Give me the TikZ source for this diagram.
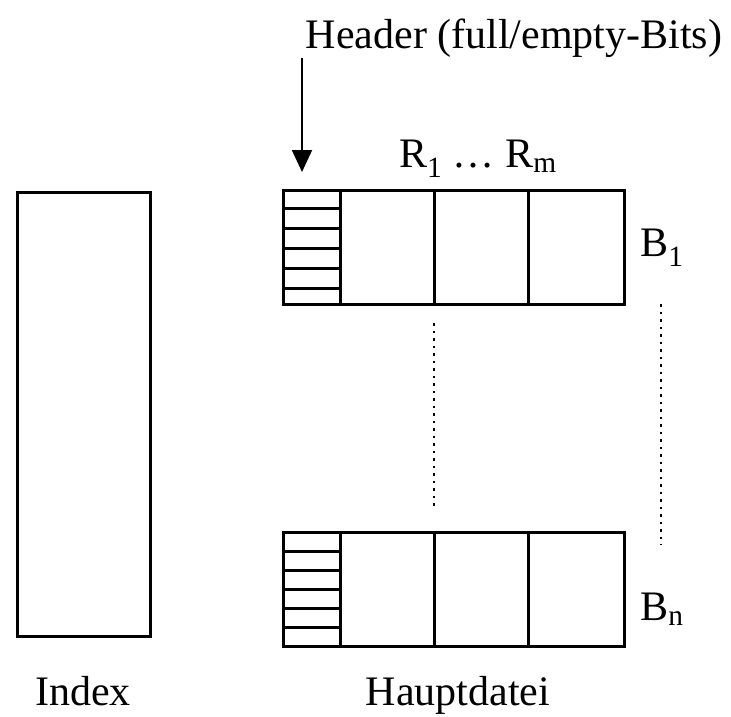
\documentclass[tikz,border=0pt]{standalone}
\usepackage{fontspec}
\setmainfont{Liberation Serif}
\usetikzlibrary{arrows.meta}
\begin{document}
\begin{tikzpicture}[x=1pt,y=-1pt,
  box/.style={draw,line width=3pt},
  dotline/.style={draw,line width=2.5pt,dash pattern=on 2.5pt off 5pt},
  lbl/.style={font=\fontsize{42}{46}\selectfont,inner sep=0pt,anchor=base}]
\useasboundingbox (0,0) rectangle (731,716);
% Index
\node[box,minimum width=133pt,minimum height=444pt,inner sep=0pt] (index) at (83.5,414) {};
% Block B1
\node[box,minimum width=341pt,minimum height=114pt,inner sep=0pt] (b1) at (453.5,247) {};
\foreach \x in {340,434,528} \draw[line width=3pt] (\x,190) -- (\x,304);
\foreach \y in {208,228,248,268,288} \draw[line width=3pt] (283,\y) -- (340,\y);
% Block Bn
\node[box,minimum width=341pt,minimum height=114pt,inner sep=0pt] (bn) at (453.5,589) {};
\foreach \x in {340,434,528} \draw[line width=3pt] (\x,532) -- (\x,646);
\foreach \y in {551,570,589,608,627} \draw[line width=3pt] (283,\y) -- (340,\y);
% dotted
\coordinate (d1a) at (434,323); \coordinate (d1b) at (434,510);
\coordinate (d2a) at (661,304); \coordinate (d2b) at (661,545);
\draw[dotline] (d1a) -- (d1b);
\draw[dotline] (d2a) -- (d2b);
% arrow
\coordinate (as) at (302,58); \coordinate (ae) at (302,172);
\draw[line width=2pt,-{Triangle[length=22pt,width=20pt]}] (as) -- (ae);
% labels
\node[lbl] (hdr) at (514,48) {Header (full/empty-Bits)};
\node[lbl] (rr) at (478,167) {R\textsubscript{1} … R\textsubscript{m}};
\node[lbl] (lb1) at (662,256) {B\textsubscript{1}};
\node[lbl] (lbn) at (662,620) {B\textsubscript{n}};
\node[lbl] (lidx) at (83,705) {Index};
\node[lbl] (lh) at (458,705) {Hauptdatei};
\end{tikzpicture}
\end{document}
